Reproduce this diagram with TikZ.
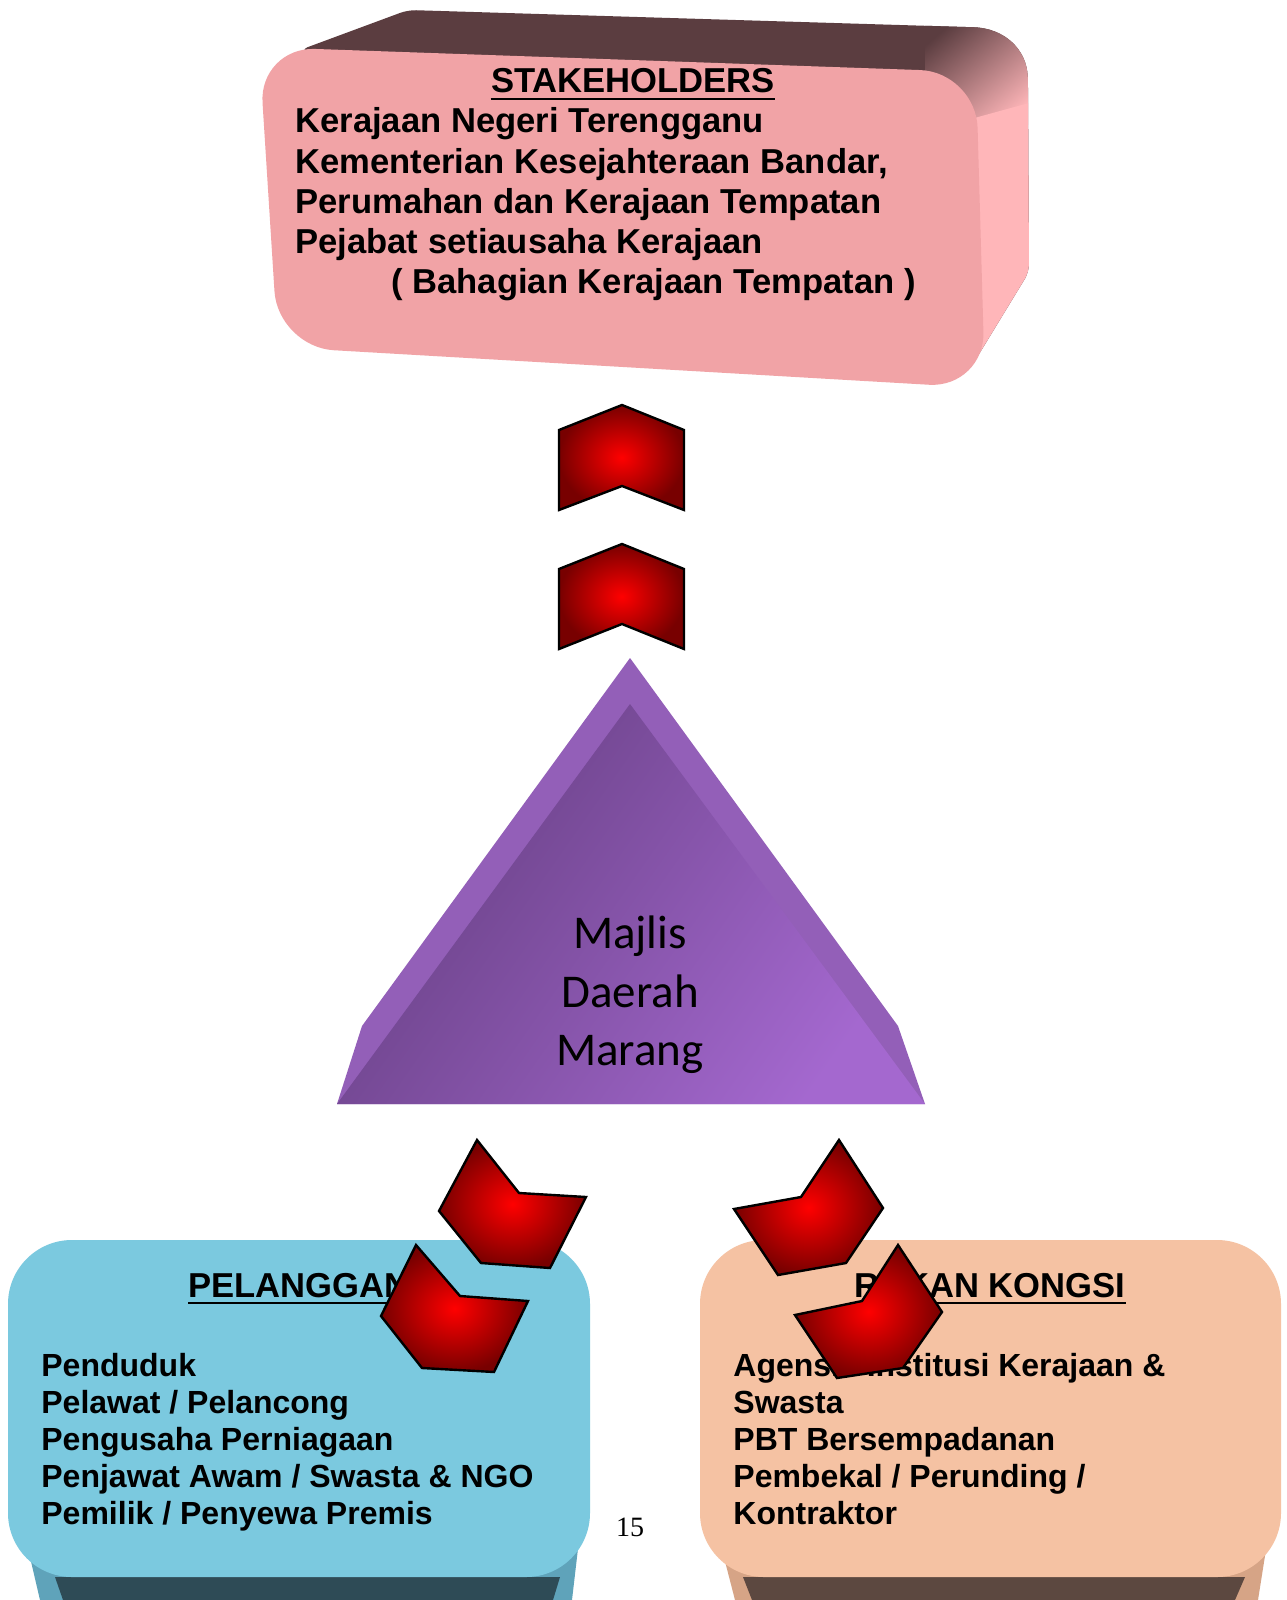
\documentclass[tikz,border=0pt]{standalone}
\usepackage{fontspec}
\setmainfont{Liberation Sans}
\newfontfamily\calib{Carlito}
\newfontfamily\sernum{Liberation Serif}
\definecolor{pinkF}{HTML}{F1A3A6}
\definecolor{pinkS}{HTML}{FFB6B9}
\definecolor{brownT}{HTML}{5B3D40}
\definecolor{blueF}{HTML}{7BC9DF}
\definecolor{blueS}{HTML}{5FA3BA}
\definecolor{tealD}{HTML}{2E4B56}
\definecolor{peachF}{HTML}{F5C2A3}
\definecolor{peachS}{HTML}{D6A486}
\definecolor{brownD}{HTML}{5C4840}
\definecolor{purB}{HTML}{935FB8}
\definecolor{purD}{HTML}{663F82}
\definecolor{purL}{HTML}{A468CF}
\definecolor{chevD}{HTML}{780000}
\begin{document}
\begin{tikzpicture}[x=0.5pt,y=-0.5pt,
  chev/.style={draw=black, line width=1.2pt, line join=miter, inner color=red, outer color=chevD},
  bodytxt/.style={font=\fontsize{16}{18.5}\selectfont\bfseries, anchor=base west, inner sep=0pt},
  toptxt/.style={font=\fontsize{17.3}{20}\selectfont\bfseries, anchor=base west, inner sep=0pt},
  hdrtxt/.style={font=\fontsize{17.3}{20}\selectfont\bfseries, anchor=base, inner sep=0pt},
  tritxt/.style={font=\calib\fontsize{23.5}{29}\selectfont, anchor=base, inner sep=0pt},
  uline/.style={line width=1pt}]
\useasboundingbox[fill=white] (0,0) rectangle (1286,1600);

% ---------- bottom left box (PELANGGAN)
\fill[blueS] (12,1480) -- (40,1600) -- (572,1600) -- (586,1480) -- cycle;
\fill[tealD] (55,1577) -- (63,1600) -- (553,1600) -- (560,1577) -- cycle;
\fill[blueF, rounded corners=32pt] (8,1240) rectangle (590,1577);
\node[hdrtxt] (pelh) at (299,1297) {PELANGGAN};
\draw[uline] ([yshift=-3pt]pelh.base west) -- ([yshift=-3pt]pelh.base east);
\foreach \t [count=\i] in {Penduduk, Pelawat / Pelancong, Pengusaha Perniagaan, Penjawat Awam / Swasta \& NGO, Pemilik / Penyewa Premis}
  \node[bodytxt] (pel\i) at (41,{1376+37*(\i-1)}) {\t};

% ---------- bottom right box (RAKAN KONGSI)
\fill[peachS] (704,1480) -- (735,1600) -- (1258,1600) -- (1277,1480) -- cycle;
\fill[brownD] (743,1577) -- (752,1600) -- (1235,1600) -- (1245,1577) -- cycle;
\fill[peachF, rounded corners=32pt] (700,1240) rectangle (1281,1577);
\node[hdrtxt] (rakh) at (990,1297) {RAKAN KONGSI};
\draw[uline] ([yshift=-3pt]rakh.base west) -- ([yshift=-3pt]rakh.base east);
\foreach \t [count=\i] in {Agensi / Institusi Kerajaan \&, Swasta, PBT Bersempadanan, Pembekal / Perunding /, Kontraktor}
  \node[bodytxt] (rak\i) at (733,{1376+37*(\i-1)}) {\t};

% ---------- page number
\node[font=\sernum\fontsize{14}{16}\selectfont, anchor=base, inner sep=0pt] (pgno) at (630,1536) {15};

% ---------- chevrons
\path[chev] (622,405) -- (684,430) -- (684,510) -- (622,486) -- (559,510) -- (559,430) -- cycle;
\path[chev] (622,544) -- (684,569) -- (684,649) -- (622,624) -- (559,649) -- (559,569) -- cycle;
\path[chev] (477,1140) -- (519,1193) -- (586,1197) -- (550,1268) -- (481,1263) -- (439,1211) -- cycle;
\path[chev] (416,1245) -- (460,1296) -- (528,1301) -- (494,1372) -- (422,1368) -- (381,1316) -- cycle;
\path[chev] (839,1140) -- (883,1208) -- (846,1263) -- (778,1275) -- (734,1209) -- (801,1197) -- cycle;
\path[chev] (898,1245) -- (942,1312) -- (903,1368) -- (837,1378) -- (795,1315) -- (862,1301) -- cycle;

% ---------- triangle
\fill[purB] (630,658) -- (898,1026) -- (925,1104) -- (337,1104) -- (362,1026) -- cycle;
\shade[top color=purD, bottom color=purL, shading angle=55] (630,704) -- (925,1104) -- (337,1104) -- cycle;
\node[tritxt] (tri1) at (630,948) {Majlis};
\node[tritxt] (tri2) at (630,1007) {Daerah};
\node[tritxt] (tri3) at (630,1065) {Marang};

% ---------- top box (STAKEHOLDERS)
\fill[brownT, rounded corners=4pt] (300,50) -- (408,10) -- (965,27) .. controls (1005,28) and (1027,50) .. (1028,85) -- (1029,272) -- (973,364) -- (600,300) -- cycle;
\begin{scope}
  \clip[rounded corners=4pt] (300,50) -- (408,10) -- (965,27) .. controls (1005,28) and (1027,50) .. (1028,85) -- (1029,272) -- (973,364) -- (600,300) -- cycle;
  \shade[top color=brownT, bottom color=pinkS, shading angle=40] (925,15) rectangle (1040,125);
  \fill[pinkS] (960,122) -- (1040,100) -- (1040,400) -- (960,400) -- cycle;
\end{scope}
\fill[pinkF, rounded corners=28pt] (259,47) -- (976,72) -- (985,388) -- (278,347) -- cycle;
\node[hdrtxt] (sth) at (633,93) {STAKEHOLDERS};
\draw[uline] ([yshift=-3pt]sth.base west) -- ([yshift=-3pt]sth.base east);
\node[toptxt] (st1) at (295,133) {Kerajaan Negeri Terengganu};
\node[toptxt] (st2) at (295,173) {Kementerian Kesejahteraan Bandar,};
\node[toptxt] (st3) at (295,213) {Perumahan dan Kerajaan Tempatan};
\node[toptxt] (st4) at (295,253) {Pejabat setiausaha Kerajaan};
\node[toptxt] (st5) at (391,293) {( Bahagian Kerajaan Tempatan )};
\end{tikzpicture}
\end{document}
